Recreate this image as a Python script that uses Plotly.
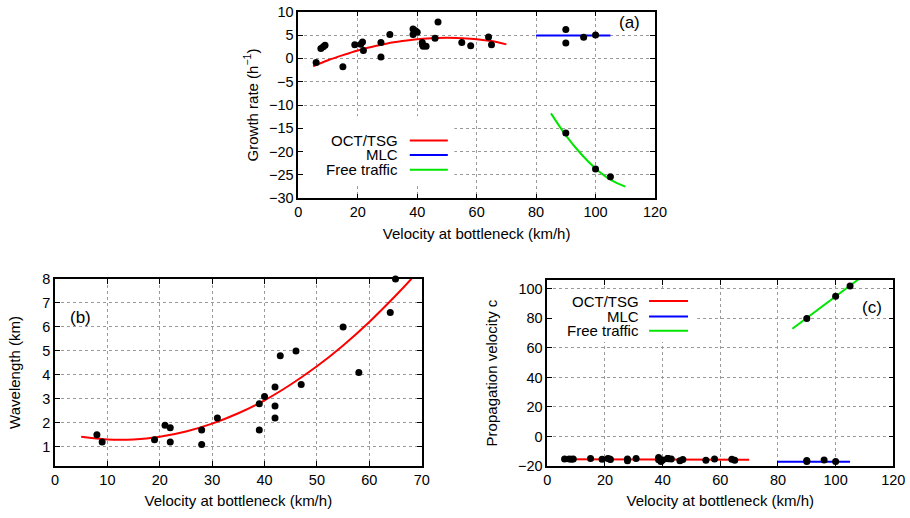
import plotly.graph_objects as go

# ---------------- Panel (a): growth rate ----------------
a_oct_x = [6, 7.6, 8.4, 9, 15, 19, 21, 21.6, 21.9, 27.8, 27.8, 30.8, 38.6, 38.6, 39.4, 40,
           41.7, 41.8, 42, 43, 46, 47, 55, 58, 64, 65]
a_oct_y = [-0.9, 2.1, 2.5, 2.8, -1.8, 2.9, 3.0, 3.5, 1.7, 3.4, 0.3, 5.1, 6.3, 5.1, 5.9, 5.6,
           3.4, 2.9, 2.6, 2.6, 4.3, 7.8, 3.4, 2.7, 4.6, 2.9]
a_mlc_x = [90, 90, 96, 100]
a_mlc_y = [6.2, 3.3, 4.5, 5.0]
a_free_x = [90, 100, 105]
a_free_y = [-16.0, -23.7, -25.4]
# fitted curves
a_fit_oct_x = [5, 10, 15, 20, 25, 30, 35, 40, 45, 50, 55, 60, 65, 70]
a_fit_oct_y = [-1.7, -0.4, 0.7, 1.7, 2.5, 3.2, 3.7, 4.1, 4.3, 4.4, 4.3, 4.1, 3.7, 3.0]
a_fit_mlc_x = [80, 105]
a_fit_mlc_y = [4.9, 4.9]
a_fit_free_x = [85, 90, 95, 100, 105, 110]
a_fit_free_y = [-11.8, -16.5, -20.4, -23.6, -26.0, -27.5]

# ---------------- Panel (b): wavelength ----------------
b_x = [8, 9, 19, 21, 22, 22, 28, 28, 31, 39, 39, 40, 42, 42, 42, 43, 46, 47, 55, 58, 64, 65]
b_y = [1.5, 1.2, 1.3, 1.9, 1.8, 1.2, 1.7, 1.1, 2.2, 2.8, 1.7, 3.1, 3.5, 2.7, 2.2, 4.8, 5.0,
       3.6, 6.0, 4.1, 6.6, 8.0]
b_fit_x = [5, 10, 15, 20, 25, 30, 35, 40, 45, 50, 55, 60, 65, 68, 70]
b_fit_y = [1.42, 1.31, 1.31, 1.42, 1.64, 1.97, 2.40, 2.94, 3.60, 4.36, 5.23, 6.21, 7.30, 8.0, 8.5]

# ---------------- Panel (c): propagation velocity ----------------
c_oct_x = a_oct_x
c_oct_y = [-15.3, -15.3, -15.4, -15.3, -15.0, -15.5, -14.9, -15.2, -15.6, -15.3, -16.4, -14.9,
           -14.2, -15.8, -17.0, -16.0, -14.9, -15.0, -15.1, -15.2, -16.5, -15.6, -16.1, -15.3,
           -15.4, -16.1]
c_mlc_x = [90, 90, 96, 100]
c_mlc_y = [-16.3, -16.9, -15.9, -17.0]
c_free_x = [90, 100, 105]
c_free_y = [80, 95, 102]
c_fit_oct_x = [5, 70]
c_fit_oct_y = [-15.4, -15.7]
c_fit_mlc_x = [80, 105]
c_fit_mlc_y = [-17.1, -17.1]
c_fit_free_x = [85, 110]
c_fit_free_y = [73, 109.5]

legend_names = ["OCT/TSG", "MLC", "Free traffic"]
RED, BLUE, GREEN = "#ff0000", "#0000ff", "#00e600"
FONT = "Liberation Sans, Arial, Helvetica, sans-serif"

W, H = 910, 518


def dx(p0, p1):
    return [p0 / W, p1 / W]


def dy(top, bottom):
    return [1 - bottom / H, 1 - top / H]


fig = go.Figure()


def line(x, y, color, xa, ya):
    fig.add_trace(go.Scatter(x=x, y=y, mode="lines", line=dict(color=color, width=2, shape="spline"),
                             xaxis=xa, yaxis=ya, showlegend=False, hoverinfo="skip"))


def pts(x, y, xa, ya):
    fig.add_trace(go.Scatter(x=x, y=y, mode="markers", marker=dict(color="black", size=7),
                             xaxis=xa, yaxis=ya, showlegend=False, cliponaxis=False))


# (a)
line(a_fit_oct_x, a_fit_oct_y, RED, "x", "y")
line(a_fit_mlc_x, a_fit_mlc_y, BLUE, "x", "y")
line(a_fit_free_x, a_fit_free_y, GREEN, "x", "y")
pts(a_oct_x + a_mlc_x + a_free_x, a_oct_y + a_mlc_y + a_free_y, "x", "y")
# (b)
line(b_fit_x, b_fit_y, RED, "x2", "y2")
pts(b_x, b_y, "x2", "y2")
# (c)
line(c_fit_oct_x, c_fit_oct_y, RED, "x3", "y3")
line(c_fit_mlc_x, c_fit_mlc_y, BLUE, "x3", "y3")
line(c_fit_free_x, c_fit_free_y, GREEN, "x3", "y3")
pts(c_oct_x + c_mlc_x + c_free_x, c_oct_y + c_mlc_y + c_free_y, "x3", "y3")

axis_common = dict(
    showline=True, linecolor="black", linewidth=1.5, mirror="allticks",
    ticks="inside", ticklen=5, tickcolor="black", tickwidth=1,
    showgrid=True, gridcolor="#9a9a9a", griddash="dot", gridwidth=1,
    zeroline=False, automargin=False,
    tickfont=dict(size=14.5, color="black", family=FONT),
    title_font=dict(size=15, color="black", family=FONT),
)
xtitle = "Velocity at bottleneck (km/h)"

fig.update_layout(
    width=W, height=H,
    margin=dict(l=0, r=0, t=0, b=0),
    paper_bgcolor="white", plot_bgcolor="white",
    font=dict(family=FONT, color="black"),
    showlegend=False,
    xaxis=dict(axis_common, domain=dx(298.3, 655), range=[0, 120], dtick=20, anchor="y",
               title=dict(text=xtitle, standoff=9)),
    yaxis=dict(axis_common, domain=dy(11.7, 198.3), range=[-30, 10], dtick=5, anchor="x",
               title=dict(text="Growth rate (h<sup>−1</sup>)", standoff=7)),
    xaxis2=dict(axis_common, domain=dx(55, 421.7), range=[0, 70], dtick=10, anchor="y2",
                title=dict(text=xtitle, standoff=8)),
    yaxis2=dict(axis_common, domain=dy(279, 466), range=[0.2, 8], tickvals=[1, 2, 3, 4, 5, 6, 7, 8],
                anchor="x2", title=dict(text="Wavelength (km)", standoff=18)),
    xaxis3=dict(axis_common, domain=dx(547.3, 893.3), range=[0, 120], dtick=20, anchor="y3",
                title=dict(text=xtitle, standoff=8)),
    yaxis3=dict(axis_common, domain=dy(280, 466), range=[-20, 106], dtick=20, anchor="x3",
                title=dict(text="Propagation velocity c", standoff=17)),
)

shapes = []
annotations = []
# opaque key boxes
shapes.append(dict(type="rect", xref="x", yref="y", x0=0.4, x1=52.5, y0=-27.2, y1=-12.4,
                   fillcolor="white", line=dict(width=0), layer="between"))
shapes.append(dict(type="rect", xref="x3", yref="y3", x0=0.4, x1=52, y0=64, y1=98,
                   fillcolor="white", line=dict(width=0), layer="between"))

colors = [RED, BLUE, GREEN]
# key (a)
for name, col, yy in zip(legend_names, colors, [-17.6, -20.7, -23.9]):
    annotations.append(dict(xref="x", yref="y", x=34.2, y=yy, text=name, showarrow=False,
                            xanchor="right", yanchor="middle", font=dict(size=15, family=FONT)))
    shapes.append(dict(type="line", xref="x", yref="y", x0=37.5, x1=50.3, y0=yy, y1=yy,
                       line=dict(color=col, width=2)))
# key (c)
for name, col, yy in zip(legend_names, colors, [91.7, 81.2, 71.7]):
    annotations.append(dict(xref="x3", yref="y3", x=32.5, y=yy, text=name, showarrow=False,
                            xanchor="right", yanchor="middle", font=dict(size=15, family=FONT)))
    shapes.append(dict(type="line", xref="x3", yref="y3", x0=35.3, x1=48.8, y0=yy, y1=yy,
                       line=dict(color=col, width=2)))

# panel labels
annotations.append(dict(xref="x", yref="y", x=111.5, y=7.6, text="(a)", showarrow=False,
                        font=dict(size=17, family=FONT)))
annotations.append(dict(xref="x2", yref="y2", x=4.8, y=6.4, text="(b)", showarrow=False,
                        font=dict(size=17, family=FONT)))
annotations.append(dict(xref="x3", yref="y3", x=112.6, y=87.5, text="(c)", showarrow=False,
                        font=dict(size=17, family=FONT)))

fig.update_layout(shapes=shapes, annotations=annotations)
# remove the page's default 8px body margin so the figure fills the window exactly
fig.write_html("out.html", config={"displayModeBar": False},
               post_script="document.body.style.margin='0';document.body.style.overflow='hidden';")
